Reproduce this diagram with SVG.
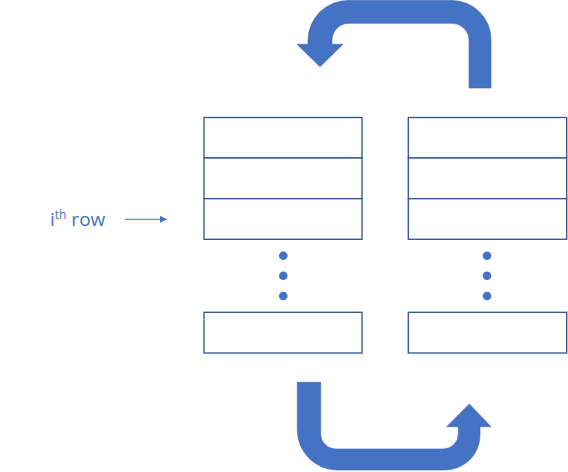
<svg xmlns="http://www.w3.org/2000/svg" width="568" height="472" viewBox="0 0 568 472">
<style>
.cell{fill:#fff;stroke:#2F528F;stroke-width:1.3}
.dot{fill:#4472C4}
.big{fill:#4472C4;stroke:#3A64B0;stroke-width:0.6}
.lbl{font-family:"Open Sans","Liberation Sans",sans-serif;font-size:19px;fill:#4472C4}
</style>
<defs>
<marker id="ah" viewBox="0 0 10 10" refX="10" refY="5" markerWidth="7" markerHeight="7" markerUnits="userSpaceOnUse" orient="auto">
<path d="M0,0 L10,5 L0,10 Z" fill="#4472C4"/>
</marker>
</defs>
<g id="left-array">
<rect class="cell" x="204" y="117.5" width="158" height="40.5"/>
<rect class="cell" x="204" y="158" width="158" height="40.7"/>
<rect class="cell" x="204" y="198.7" width="158" height="40.6"/>
<circle class="dot" cx="283.3" cy="255.7" r="4.3"/>
<circle class="dot" cx="283.3" cy="275.7" r="4.3"/>
<circle class="dot" cx="283.3" cy="296" r="4.3"/>
<rect class="cell" x="204" y="312.3" width="158" height="40.7"/>
</g>
<g id="right-array">
<rect class="cell" x="408.3" y="117.5" width="158.4" height="40.5"/>
<rect class="cell" x="408.3" y="158" width="158.4" height="40.7"/>
<rect class="cell" x="408.3" y="198.7" width="158.4" height="40.6"/>
<circle class="dot" cx="487" cy="255.7" r="4.3"/>
<circle class="dot" cx="487" cy="275.7" r="4.3"/>
<circle class="dot" cx="487" cy="296" r="4.3"/>
<rect class="cell" x="408.3" y="312.3" width="158.4" height="40.7"/>
</g>
<g id="label">
<text class="lbl" x="50" y="226">i<tspan font-size="12" dy="-7">th</tspan><tspan dy="7"> row</tspan></text>
</g>
<g id="connectors">
<line x1="125" y1="219.3" x2="167" y2="219.3" stroke="#4472C4" stroke-width="1" marker-end="url(#ah)"/>
<path class="big" d="M297,44.3 L308,44.3 L308,40 A40,40 0 0 1 348,0.5 L452,0.5 A39,39 0 0 1 491,39.5 L491,88 L469,88 L469,40 A17,17 0 0 0 452,23.3 L349,23.3 A17,17 0 0 0 332,40.3 L332,44.3 L343,44.3 L320,66.7 Z"/>
<path class="big" d="M297.3,382.3 L320.7,382.3 L320.7,434 A15,15 0 0 0 335.7,449 L443.3,449 A15,15 0 0 0 458.3,434 L458.3,426.7 L446.7,426.7 L469.3,404 L491,426.7 L480,426.7 L480,435 A35,35 0 0 1 445,470 L337.3,470 A40,40 0 0 1 297.3,430 Z"/>
</g>
</svg>
